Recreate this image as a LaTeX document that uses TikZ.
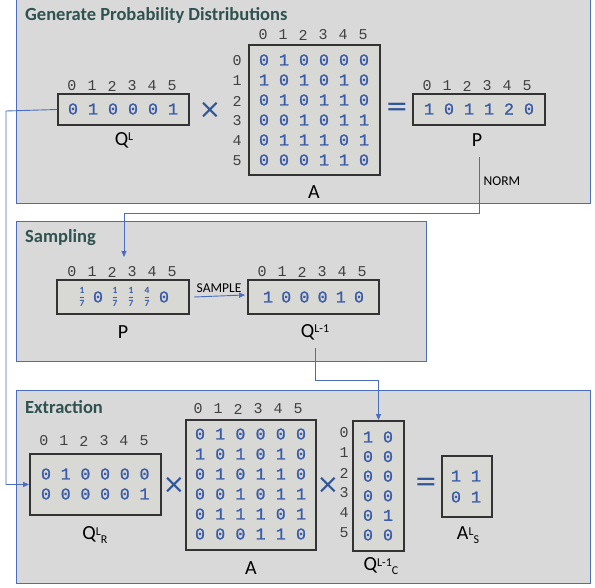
\documentclass[tikz,border=0pt]{standalone}
\usepackage{amsmath}
\usepackage{fontspec}
\setmainfont{Carlito}
\newfontfamily\monofont{Liberation Mono}
\newfontfamily\entfont[FakeBold=1.2]{Liberation Mono}
\newfontfamily\symfont{DejaVu Sans}
\usetikzlibrary{arrows.meta}
\definecolor{panelfill}{HTML}{D9D9D9}
\definecolor{panelline}{HTML}{4A6EBB}
\definecolor{boxfill}{HTML}{D8D8D4}
\definecolor{boxline}{HTML}{333333}
\definecolor{entry}{HTML}{3A5BA8}
\definecolor{idx}{HTML}{404040}
\definecolor{titlec}{HTML}{2F5250}
\definecolor{opc}{HTML}{2F5597}
\newcommand\myfr[1]{{\fontsize{9.5}{9.5}\selectfont$\genfrac{}{}{1pt}{0}{\mathbf{#1}}{\mathbf{7}}$}}
\newcommand\sups[1]{\raisebox{4.5pt}{\fontsize{12}{12}\selectfont #1}}
\newcommand\subs[1]{\raisebox{-3.5pt}{\fontsize{12}{12}\selectfont #1}}
\tikzset{
 panel/.style={fill=panelfill, draw=panelline, line width=0.9pt, inner sep=0},
 mbox/.style={fill=boxfill, draw=boxline, line width=1.8pt, inner sep=0},
 ent/.style={text=entry, font=\entfont\fontsize{16.5}{16.5}\selectfont, inner sep=0},
 ix/.style={text=idx, font=\monofont\fontsize{15}{15}\selectfont, inner sep=0},
 lab/.style={font=\fontsize{20}{20}\selectfont, inner sep=0},
 ptitle/.style={text=titlec, font=\bfseries\fontsize{18.5}{18.5}\selectfont, anchor=west, inner sep=0},
 conn/.style={draw=panelline, line width=0.9pt},
 tip/.style={-{Triangle[length=6pt,width=5pt]}},
 op/.style={text=opc, font=\symfont\fontsize{27}{27}\selectfont, inner sep=0},
 smalltxt/.style={font=\fontsize{13.5}{13.5}\selectfont, inner sep=0},
}
\begin{document}
\begin{tikzpicture}[x=1pt,y=-1pt]
\useasboundingbox (0,0) rectangle (595,588);
% panels
\node[panel, minimum width=574pt, minimum height=206pt] (pan1) at (303,100) {};
\node[panel, minimum width=410pt, minimum height=140pt] (pan2) at (221,291) {};
\node[panel, minimum width=574pt, minimum height=193pt] (pan3) at (303,486.5) {};
\node[ptitle] (t1) at (25,15) {Generate Probability Distributions};
\node[ptitle] (t2) at (25,238) {Sampling};
\node[ptitle] (t3) at (25,407) {Extraction};

% ---------- panel 1 ----------
\node[mbox, minimum width=131pt, minimum height=31pt] (ql) at (123.5,109.5) {};
\foreach \v [count=\c from 0] in {0,1,0,0,0,1} \node[ent] (ql\c) at (73+20*\c,109) {\v};
\foreach \c in {0,...,5} \node[ix] (qli\c) at (72+20*\c,86) {\c};
\node[lab] (qllab) at (124,140) {Q\sups{L}};
\node[op] (x1) at (210,110) {×};

\node[mbox, minimum width=131pt, minimum height=130pt] (am) at (314.5,110) {};
\foreach \row [count=\r from 0] in {{0,1,0,0,0,0},{1,0,1,0,1,0},{0,1,0,1,1,0},{0,0,1,0,1,1},{0,1,1,1,0,1},{0,0,0,1,1,0}}
  \foreach \v [count=\c from 0] in \row \node[ent] (a\r\c) at (264+20*\c,60+20*\r) {\v};
\foreach \c in {0,...,5} \node[ix] (aci\c) at (263+20*\c,35) {\c};
\foreach \c in {0,...,5} \node[ix] (ari\c) at (237,61+20*\c) {\c};
\node[lab] (alab) at (314,192) {A};
\node[op] (eq1) at (397,109) {=};

\node[mbox, minimum width=132pt, minimum height=31pt] (pm) at (479,109.5) {};
\foreach \v [count=\c from 0] in {1,0,1,1,2,0} \node[ent] (p\c) at (429+20*\c,109) {\v};
\foreach \c in {0,...,5} \node[ix] (pi\c) at (427+20*\c,86) {\c};
\node[lab] (plab) at (477,140) {P};

\coordinate (ns) at (479,157);
\coordinate (nc) at (479,213);
\coordinate (ne) at (124,257);
\draw[conn, tip] (ns) -- (nc) -| (ne);
\node[smalltxt] (norm) at (502,181) {NORM};

% ---------- panel 2 ----------
\node[mbox, minimum width=132pt, minimum height=34pt] (pp) at (123,297) {};
\foreach \c in {0,...,5} \node[ix] (ppi\c) at (72+20*\c,272) {\c};
\node[ent] (pp0) at (82,297) {\myfr{1}};
\node[ent] (pp1) at (98,297) {0};
\node[ent] (pp2) at (115,297) {\myfr{1}};
\node[ent] (pp3) at (131,297) {\myfr{1}};
\node[ent] (pp4) at (147,297) {\myfr{4}};
\node[ent] (pp5) at (164,297) {0};
\node[lab] (pplab) at (123,332) {P};

\node[mbox, minimum width=131pt, minimum height=34pt] (qm) at (313.5,297) {};
\foreach \c in {0,...,5} \node[ix] (qmi\c) at (262+20*\c,272) {\c};
\foreach \v [count=\c from 0] in {1,0,0,0,1,0} \node[ent] (qm\c) at (268+18.2*\c,297) {\v};
\node[lab] (qmlab) at (315,332) {Q\sups{L-1}};

\draw[conn, tip] ([xshift=4pt]pp.east) -- ([xshift=-2pt,yshift=2pt]qm.west);
\node[smalltxt] (samp) at (219,288) {SAMPLE};

\coordinate (qs) at (315,348);
\coordinate (qc1) at (315,380);

% ---------- panel 3 ----------
\node[mbox, minimum width=131pt, minimum height=61pt] (qr) at (95.5,484.5) {};
\foreach \c in {0,...,5} \node[ix] (qri\c) at (44+20*\c,441) {\c};
\foreach \row [count=\r from 0] in {{0,1,0,0,0,0},{0,0,0,0,0,1}}
  \foreach \v [count=\c from 0] in \row \node[ent] (qr\r\c) at (46+19.7*\c,474+20*\r) {\v};
\node[lab] (qrlab) at (95,535) {Q\sups{L}\subs{R}};
\node[op] (x2) at (174,485) {×};

\node[mbox, minimum width=130pt, minimum height=130pt] (a2) at (251,485) {};
\foreach \row [count=\r from 0] in {{0,1,0,0,0,0},{1,0,1,0,1,0},{0,1,0,1,1,0},{0,0,1,0,1,1},{0,1,1,1,0,1},{0,0,0,1,1,0}}
  \foreach \v [count=\c from 0] in \row \node[ent] (b\r\c) at (200+20.2*\c,434+20*\r) {\v};
\foreach \c in {0,...,5} \node[ix] (bci\c) at (198+20*\c,409) {\c};
\node[lab] (a2lab) at (251,568) {A};
\node[op] (x3) at (328,485) {×};

\node[mbox, minimum width=51pt, minimum height=130pt] (qcm) at (378.5,486) {};
\foreach \row [count=\r from 0] in {{1,0},{0,0},{0,0},{0,0},{0,1},{0,0}}
  \foreach \v [count=\c from 0] in \row \node[ent] (qc\r\c) at (368+20*\c,437+19.6*\r) {\v};
\foreach \c in {0,...,5} \node[ix] (qci\c) at (344,433+20*\c) {\c};
\node[lab] (qclab) at (381,566) {Q\sups{L-1}\subs{C}};
\node[op] (eq2) at (426,484) {=};

\node[mbox, minimum width=50pt, minimum height=61pt] (als) at (467,486.5) {};
\foreach \row [count=\r from 0] in {{1,1},{0,1}}
  \foreach \v [count=\c from 0] in \row \node[ent] (s\r\c) at (456+20*\c,476+21*\r) {\v};
\node[lab] (alslab) at (468,535) {A\sups{L}\subs{S}};

% connectors
\draw[conn, tip] (qs) -- (qc1) -| (qcm.north);
\coordinate (lt) at (6,111);
\draw[conn, tip] (ql.west) -- (lt) |- (qr.west);
\end{tikzpicture}
\end{document}
